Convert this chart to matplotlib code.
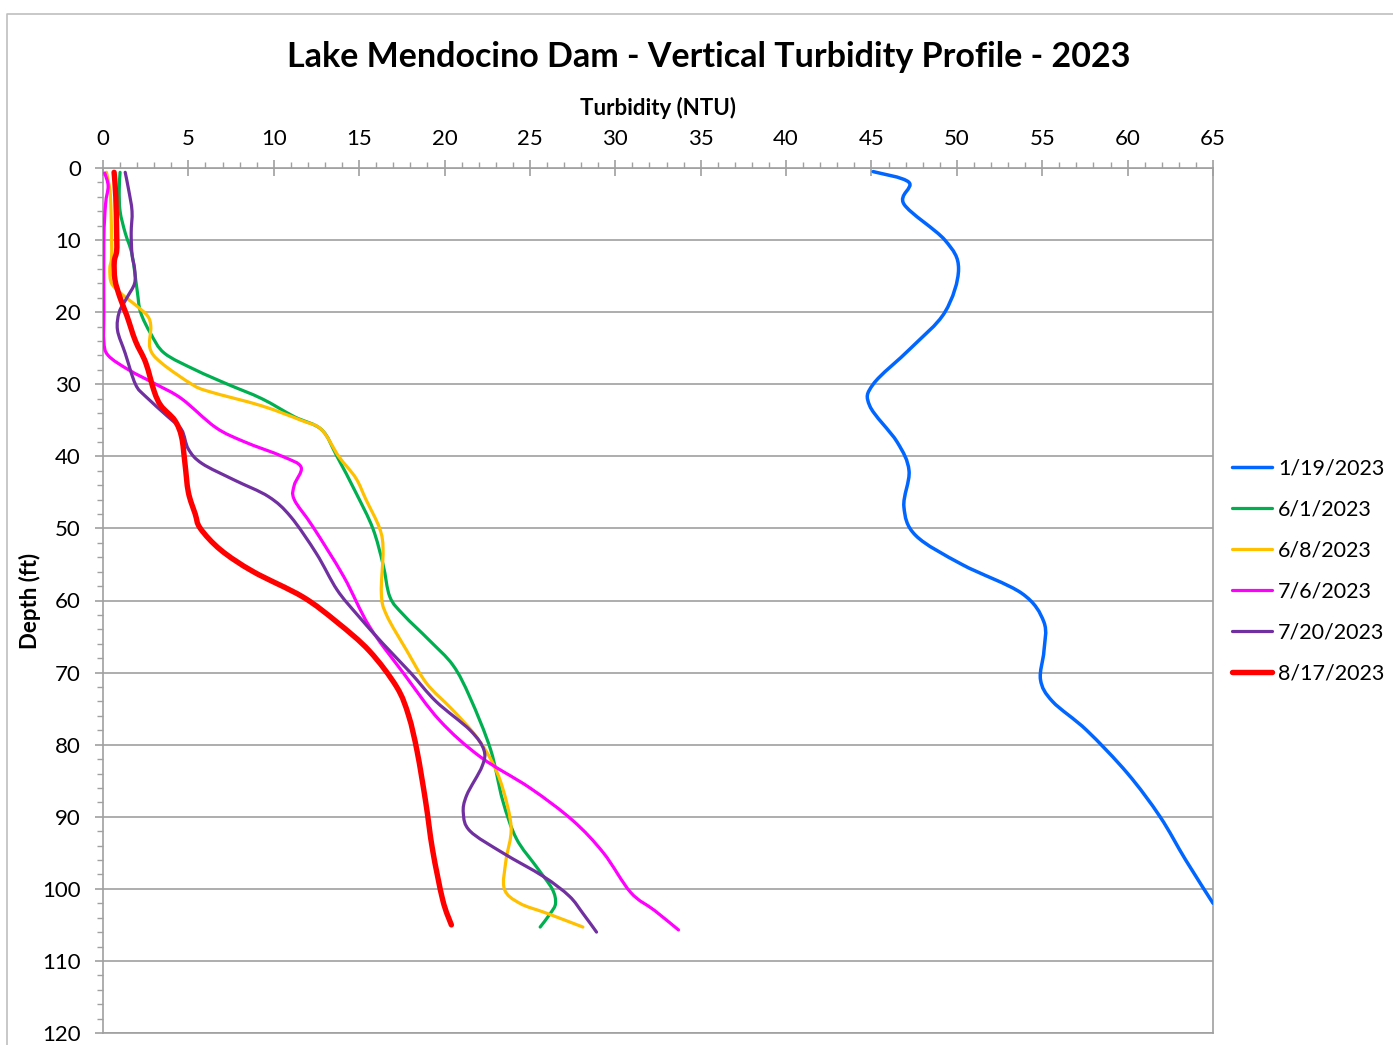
import matplotlib.pyplot as plt
import numpy as np
from matplotlib.path import Path
from matplotlib.patches import PathPatch
from matplotlib.lines import Line2D
from matplotlib.ticker import MultipleLocator

plt.rcParams['font.family'] = ['Lato', 'DejaVu Sans']

# Depth (ft) / turbidity (NTU)
depth_0119 = [0.5, 2, 5, 10, 14, 20, 25, 30, 33, 38, 42, 47, 51, 55, 59, 63, 67, 71, 74, 78, 84, 90, 96, 102]
ntu_0119 = [45.1, 47.2, 46.9, 49.3, 50.1, 49.3, 47.3, 45.1, 44.9, 46.5, 47.2, 46.9, 47.6, 50.3, 53.8, 55.1,
            55.1, 54.9, 55.6, 57.6, 60.0, 61.9, 63.4, 65.0]

depth_0601 = [0.6, 3, 6, 9, 12, 17, 20, 23, 25.7, 28, 30, 32, 34.5, 36.3, 40, 45, 50, 55, 59.5, 62, 65.5, 69,
              73.5, 80.7, 87.7, 93, 97, 100, 102, 103.4, 105.3]
ntu_0601 = [1.0, 0.95, 1.0, 1.3, 1.7, 2.0, 2.2, 2.8, 3.6, 5.4, 7.3, 9.3, 11.2, 12.8, 13.7, 14.8, 15.8, 16.4,
            16.8, 17.6, 19.1, 20.5, 21.5, 22.7, 23.4, 24.2, 25.4, 26.3, 26.5, 26.2, 25.6]

depth_0608 = [0.6, 3, 6, 10, 12.5, 14, 16, 17.5, 19, 20.5, 22, 25, 27, 30, 31, 33, 35, 36.3, 40, 43, 46, 50,
              53, 59, 62, 67, 71.5, 75, 78.4, 82, 86, 91.5, 96, 100, 102, 103.4, 105.3]
ntu_0608 = [0.2, 0.4, 0.47, 0.5, 0.5, 0.4, 0.5, 1.1, 1.9, 2.6, 2.8, 2.75, 3.4, 5.2, 6.2, 9.3, 11.6, 12.8,
            13.8, 14.8, 15.4, 16.2, 16.4, 16.3, 16.6, 17.8, 18.95, 20.4, 21.7, 22.7, 23.4, 23.9, 23.6, 23.5,
            24.4, 26.0, 28.1]

depth_0706 = [0.7, 2.5, 5, 10, 20, 24, 26, 28, 30, 32, 36, 38, 40, 41.5, 44, 46, 49.8, 56.7, 63.6, 70.1,
              76.6, 81.7, 86, 90.5, 95, 100.5, 103, 105.7]
ntu_0706 = [0.1, 0.3, 0.15, 0.05, 0.05, 0.05, 0.3, 1.5, 3.1, 4.6, 6.6, 8.3, 10.5, 11.6, 11.2, 11.2, 12.3,
            14.1, 15.6, 17.6, 19.7, 22.1, 25.0, 27.5, 29.3, 30.9, 32.3, 33.7]

depth_0720 = [0.6, 3, 6, 9, 12, 14, 16, 18, 20, 22.5, 25.7, 30, 31.7, 34.5, 36.3, 39, 41, 43.3, 45.6, 48.4,
              53.5, 58.5, 62, 66, 70, 74, 78, 80.7, 83, 87, 89.5, 92, 95, 98.3, 101, 103.4, 106]
ntu_0720 = [1.3, 1.5, 1.7, 1.65, 1.7, 1.85, 1.85, 1.4, 0.95, 0.85, 1.3, 1.9, 2.5, 3.8, 4.6, 5.0, 5.8, 7.7,
            9.7, 11.0, 12.5, 13.7, 14.9, 16.4, 18.0, 19.5, 21.5, 22.3, 22.2, 21.3, 21.1, 21.5, 23.4, 25.8,
            27.3, 28.1, 28.9]

depth_0817 = [0.6, 4, 9, 11.5, 13, 15.5, 18, 20.5, 24, 27, 31, 33, 35, 37.3, 41, 45, 48, 50, 53, 56, 59.5,
              63, 67, 72, 76, 81, 88, 94.6, 101.6, 105]
ntu_0817 = [0.65, 0.75, 0.8, 0.8, 0.66, 0.7, 1.0, 1.4, 1.9, 2.5, 3.0, 3.4, 4.2, 4.6, 4.8, 5.0, 5.4, 5.7,
            6.9, 8.8, 11.7, 13.7, 15.6, 17.2, 17.9, 18.4, 18.9, 19.3, 19.9, 20.4]

labels = ['1/19/2023', '6/1/2023', '6/8/2023', '7/6/2023', '7/20/2023', '8/17/2023']
colors = ['#0066FF', '#00B050', '#FFC000', '#FF00FF', '#7030A0', '#FF0000']
widths = [2.5, 2.3, 2.3, 2.3, 2.3, 3.9]


def smooth_path(x, y):
    # Excel-style smoothed line: Catmull-Rom segments as cubic Beziers
    pts = np.column_stack([x, y])
    n = len(pts)
    verts = [pts[0]]
    codes = [Path.MOVETO]
    for i in range(n - 1):
        p0 = pts[i - 1] if i > 0 else pts[i]
        p1, p2 = pts[i], pts[i + 1]
        p3 = pts[i + 2] if i + 2 < n else pts[i + 1]
        verts += [p1 + (p2 - p0) / 6, p2 - (p3 - p1) / 6, p2]
        codes += [Path.CURVE4] * 3
    return Path(verts, codes)


fig = plt.figure(figsize=(13.93, 10.45), dpi=100)
ax = fig.add_axes([103 / 1393, 1 - 1033 / 1045, 1110 / 1393, 865 / 1045])

series = [(ntu_0119, depth_0119), (ntu_0601, depth_0601), (ntu_0608, depth_0608),
          (ntu_0706, depth_0706), (ntu_0720, depth_0720), (ntu_0817, depth_0817)]
handles = []
for (x, y), c, lw, lab in zip(series, colors, widths, labels):
    ax.add_patch(PathPatch(smooth_path(x, y), fill=False, edgecolor=c, lw=lw,
                           capstyle='round', joinstyle='round', zorder=3))
    handles.append(Line2D([], [], color=c, lw=lw, solid_capstyle='round'))

ax.set_xlim(0, 65)
ax.set_ylim(120, 0)
ax.xaxis.tick_top()
ax.xaxis.set_label_position('top')
ax.xaxis.set_major_locator(MultipleLocator(5))
ax.xaxis.set_minor_locator(MultipleLocator(1))
ax.yaxis.set_major_locator(MultipleLocator(10))
ax.yaxis.set_minor_locator(MultipleLocator(2))

grid_c = '#A0A0A0'
ax.grid(axis='y', which='major', color=grid_c, lw=1.2)
ax.set_axisbelow(True)
for s in ax.spines.values():
    s.set_color(grid_c)
    s.set_linewidth(1.2)

ax.tick_params(axis='x', which='major', direction='inout', length=11, width=1.2, color=grid_c,
               labelsize=16, pad=8)
ax.tick_params(axis='x', which='minor', direction='out', length=4, width=1, color=grid_c)
ax.tick_params(axis='y', which='major', direction='out', length=6, width=1.2, color=grid_c,
               labelsize=16, pad=10)
ax.tick_params(axis='y', which='minor', direction='out', length=4, width=1, color=grid_c)

ax.set_xlabel('Turbidity (NTU)', fontsize=16, fontweight='bold', labelpad=10)
ax.set_ylabel('Depth (ft)', fontsize=16, fontweight='bold', labelpad=1)

fig.text(709 / 1393, 1 - 57 / 1045, 'Lake Mendocino Dam - Vertical Turbidity Profile - 2023',
         ha='center', va='center', fontsize=24.5, fontweight='bold')

ax.legend(handles, labels, loc='center left', bbox_to_anchor=(1232 / 1393, 1 - 571 / 1045),
          bbox_transform=fig.transFigure, frameon=False, fontsize=15.5, handlelength=1.85,
          handletextpad=0.3, labelspacing=0.98, borderpad=0, borderaxespad=0)

# outer chart-area border
fig.add_artist(Line2D([7 / 1393, 7 / 1393, 1], [0, 1 - 14 / 1045, 1 - 14 / 1045],
                      transform=fig.transFigure, color='#BFBFBF', lw=1.2))

fig.savefig('out.png', dpi=100)
